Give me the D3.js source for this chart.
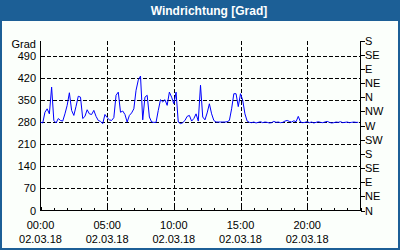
<!DOCTYPE html>
<html>
<head>
<meta charset="utf-8">
<script src="https://cdn.jsdelivr.net/npm/d3@7"></script>
<style>
  body { margin: 0; background: #fff; }
  svg { display: block; font-family: "Liberation Sans", Arial, sans-serif; }
</style>
</head>
<body>
<svg width="400" height="250"></svg>
<script>
const title = "Windrichtung [Grad]";
const dateLabel = "02.03.18";
// 10 minute values from 00:00 to 23:50
const stepMinutes = 10;
const dirValues = [
  281, 278, 312, 323, 307, 392, 286, 278, 292, 286, 284, 307,
  334, 374, 318, 302, 331, 363, 360, 292, 299, 320, 307, 305,
  318, 299, 286, 283, 276, 305, 295, 288, 286, 295, 366, 376,
  312, 316, 305, 281, 302, 310, 323, 382, 414, 427, 288, 360,
  366, 297, 281, 280, 280, 318, 352, 345, 352, 334, 376, 360,
  339, 376, 281, 276, 279, 286, 299, 302, 284, 292, 307, 284,
  398, 297, 288, 310, 339, 307, 286, 281, 281, 281, 281, 281,
  282, 286, 323, 371, 371, 330, 371, 350, 307, 284, 280,
  279, 281, 278, 280, 282, 279, 281, 280, 278, 279, 283, 280,
  281, 279, 280, 284, 286, 283, 281, 285, 282, 299, 281, 279,
  280, 282, 279, 281, 278, 280, 282, 280, 279, 281, 283, 280,
  278, 279, 281, 280, 282, 279, 280, 281, 279, 280, 281, 280, 280
];
const leftTicks = [0, 70, 140, 210, 280, 350, 420, 490];
const rightTicks = [0, 45, 90, 135, 180, 225, 270, 315, 360, 405, 450, 495, 540];
const rightLabels = ["N", "NE", "E", "SE", "S", "SW", "W", "NW", "N", "NE", "E", "SE", "S"];
const hourTicks = [0, 5, 10, 15, 20];
const hourLabels = ["00:00", "05:00", "10:00", "15:00", "20:00"];

const blue = "#1c5f96";
const svg = d3.select("svg");

svg.append("rect").attr("x", 0).attr("y", 0).attr("width", 400).attr("height", 250).attr("fill", blue);
svg.append("rect").attr("x", 2).attr("y", 21).attr("width", 396).attr("height", 227).attr("fill", "#fbfffb");
svg.append("text")
  .attr("x", 209).attr("y", 15)
  .attr("text-anchor", "middle")
  .attr("fill", "#fff").attr("font-weight", "bold").attr("font-size", 12)
  .text(title);

const x = d3.scaleLinear().domain([0, 24]).range([40.5, 360.5]);
const y = d3.scaleLinear().domain([0, 540]).range([210.5, 40.5]);

const g = svg.append("g").attr("shape-rendering", "crispEdges");

// grid
g.selectAll("line.hg")
  .data(leftTicks.filter(d => d > 0))
  .enter().append("line")
  .attr("x1", x(0)).attr("x2", x(24))
  .attr("y1", d => Math.round(y(d)) + 0.5).attr("y2", d => Math.round(y(d)) + 0.5)
  .attr("stroke", "#000").attr("stroke-dasharray", "4,2");
g.selectAll("line.vg")
  .data(hourTicks.filter(d => d > 0))
  .enter().append("line")
  .attr("y1", y(540)).attr("y2", y(0))
  .attr("x1", d => Math.round(x(d)) + 0.5).attr("x2", d => Math.round(x(d)) + 0.5)
  .attr("stroke", "#000").attr("stroke-dasharray", "4,2");

// axes lines
g.append("line").attr("x1", x(0)).attr("x2", x(0)).attr("y1", y(540)).attr("y2", y(0)).attr("stroke", "#000");
g.append("line").attr("x1", x(24)).attr("x2", x(24)).attr("y1", y(540)).attr("y2", y(0)).attr("stroke", "#000");
g.append("line").attr("x1", x(0)).attr("x2", x(24)).attr("y1", y(0)).attr("y2", y(0)).attr("stroke", "#000");

// hour ticks (inside)
g.selectAll("line.ht")
  .data(d3.range(0, 25))
  .enter().append("line")
  .attr("x1", d => Math.round(x(d)) + 0.5).attr("x2", d => Math.round(x(d)) + 0.5)
  .attr("y1", y(0)).attr("y2", d => y(0) - (d % 5 === 0 ? 4 : 3))
  .attr("stroke", "#000");

// right ticks
g.selectAll("line.rt")
  .data(rightTicks)
  .enter().append("line")
  .attr("x1", x(24)).attr("x2", x(24) + 4)
  .attr("y1", d => Math.round(y(d)) + 0.5).attr("y2", d => Math.round(y(d)) + 0.5)
  .attr("stroke", "#000");

const labels = svg.append("g").attr("font-size", 11).attr("fill", "#000");

labels.selectAll("text.l")
  .data(leftTicks)
  .enter().append("text")
  .attr("x", 36).attr("y", d => y(d) + 4)
  .attr("text-anchor", "end")
  .text(d => d);
labels.append("text").attr("x", 36).attr("y", 47.5).attr("text-anchor", "end").text("Grad");

labels.selectAll("text.r")
  .data(rightTicks)
  .enter().append("text")
  .attr("x", 365).attr("y", (d, i) => y(d) + 4)
  .text((d, i) => rightLabels[i]);

labels.selectAll("text.t")
  .data(hourTicks)
  .enter().append("text")
  .attr("x", d => x(d)).attr("y", 229)
  .attr("text-anchor", "middle")
  .text((d, i) => hourLabels[i]);
labels.selectAll("text.d")
  .data(hourTicks)
  .enter().append("text")
  .attr("x", d => x(d)).attr("y", 243)
  .attr("text-anchor", "middle")
  .text(dateLabel);

// wind direction line
const line = d3.line()
  .x((d, i) => x(i * stepMinutes / 60))
  .y(d => y(d));

svg.append("path")
  .datum(dirValues)
  .attr("d", line)
  .attr("fill", "none")
  .attr("stroke", "#0000ff")
  .attr("stroke-width", 1);
</script>
</body>
</html>
